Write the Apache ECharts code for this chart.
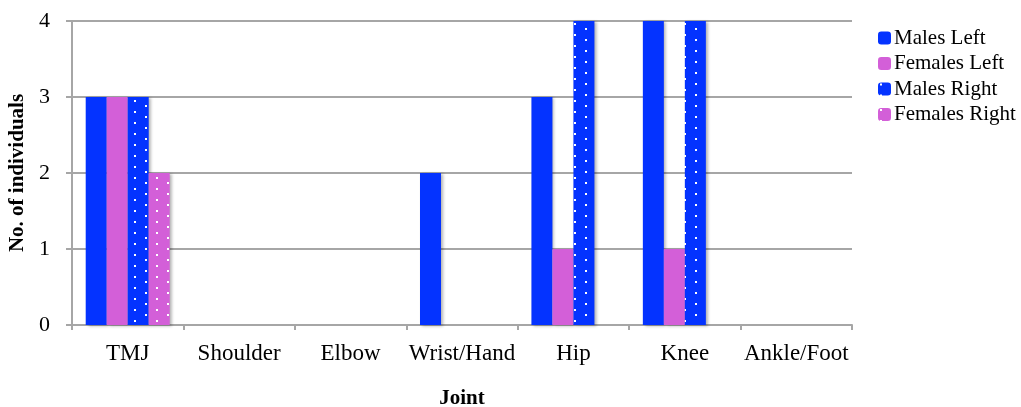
<!DOCTYPE html>
<html>
<head>
<meta charset="utf-8">
<script src="https://cdn.jsdelivr.net/npm/echarts@6/dist/echarts.min.js"></script>
<style>
html,body{margin:0;padding:0;background:#fff;}
#chart{width:1021px;height:407px;}
</style>
</head>
<body>
<div id="chart"></div>
<script>
const categories = ['TMJ', 'Shoulder', 'Elbow', 'Wrist/Hand', 'Hip', 'Knee', 'Ankle/Foot'];
const malesLeft = [3, 0, 0, 2, 3, 4, 0];
const femalesLeft = [3, 0, 0, 0, 1, 1, 0];
const malesRight = [3, 0, 0, 0, 4, 4, 0];
const femalesRight = [2, 0, 0, 0, 0, 0, 0];
const yTicks = [0, 1, 2, 3, 4];

const BLUE = '#0433FF';
const PINK = '#D35FD8';
const FONT = 'Liberation Serif';

function dotPattern(bg) {
  const c = document.createElement('canvas');
  c.width = 22; c.height = 11;
  const g = c.getContext('2d');
  g.fillStyle = bg; g.fillRect(0, 0, 22, 11);
  g.fillStyle = '#ffffff';
  g.fillRect(2, 1, 2, 2);
  g.fillRect(13, 6, 2, 2);
  return { image: c, repeat: 'repeat' };
}

const shadow = { shadowColor: 'rgba(0,0,0,0.3)', shadowBlur: 3, shadowOffsetX: 2, shadowOffsetY: 1 };

const chart = echarts.init(document.getElementById('chart'), null, { renderer: 'canvas' });
chart.setOption({
  animation: false,
  backgroundColor: '#ffffff',
  textStyle: { fontFamily: FONT, color: '#000' },
  grid: { left: 72, right: 169, top: 21, bottom: 82, containLabel: false, outerBoundsMode: 'none' },
  legend: {
    orient: 'vertical',
    left: 873,
    top: 22,
    itemWidth: 13,
    itemHeight: 13,
    itemGap: 3.5,
    textStyle: { fontFamily: FONT, fontSize: 21, color: '#000', lineHeight: 22, padding: [0, 0, 0, -2] },
    data: ['Males Left', 'Females Left', 'Males Right', 'Females Right']
  },
  xAxis: {
    type: 'category',
    data: categories,
    name: 'Joint',
    nameLocation: 'middle',
    nameGap: 63,
    nameTextStyle: { fontFamily: FONT, fontWeight: 'bold', fontSize: 21, color: '#000' },
    axisLine: { lineStyle: { color: '#a6a6a6', width: 2 } },
    axisTick: { show: true, alignWithLabel: false, length: 5, lineStyle: { color: '#a6a6a6', width: 2 } },
    axisLabel: { interval: 0, margin: 17, fontFamily: FONT, fontSize: 23, color: '#000' },
    splitLine: { show: false }
  },
  yAxis: {
    type: 'value',
    min: yTicks[0],
    max: yTicks[yTicks.length - 1],
    interval: 1,
    name: 'No. of individuals',
    nameLocation: 'middle',
    nameGap: 40,
    nameRotate: 90,
    nameTextStyle: { fontFamily: FONT, fontWeight: 'bold', fontSize: 21, color: '#000' },
    axisLine: { show: true, lineStyle: { color: '#a6a6a6', width: 2 } },
    axisTick: { show: true, length: 6, lineStyle: { color: '#a6a6a6', width: 2 } },
    axisLabel: { margin: 22, fontFamily: FONT, fontSize: 22, color: '#000' },
    splitLine: { show: true, lineStyle: { color: '#a6a6a6', width: 2 } }
  },
  series: [
    { name: 'Males Left', type: 'bar', data: malesLeft, barWidth: 21, barGap: '0%', itemStyle: Object.assign({ color: BLUE }, shadow) },
    { name: 'Females Left', type: 'bar', data: femalesLeft, barWidth: 21, barGap: '0%', itemStyle: Object.assign({ color: PINK }, shadow) },
    { name: 'Males Right', type: 'bar', data: malesRight, barWidth: 21, barGap: '0%', itemStyle: Object.assign({ color: dotPattern(BLUE) }, shadow) },
    { name: 'Females Right', type: 'bar', data: femalesRight, barWidth: 21, barGap: '0%', itemStyle: Object.assign({ color: dotPattern(PINK) }, shadow) }
  ]
});
</script>
</body>
</html>
